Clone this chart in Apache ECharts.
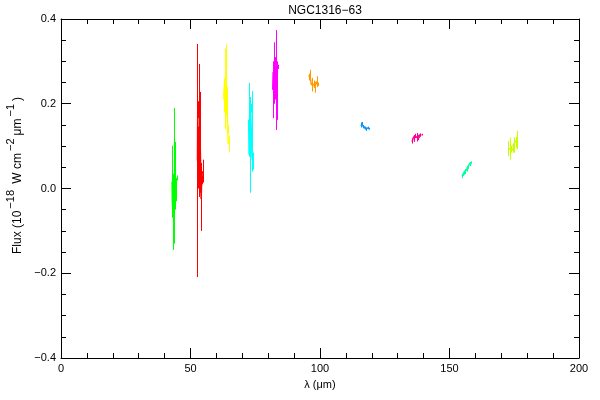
<!DOCTYPE html>
<html>
<head>
<meta charset="utf-8">
<script src="https://cdn.jsdelivr.net/npm/echarts@6/dist/echarts.min.js"></script>
<style>html,body{margin:0;padding:0;background:#fff}#c{width:600px;height:400px}</style>
</head>
<body>
<div id="c"></div>
<script>
// ---- data (wavelength in micron, flux in 1e-18 W cm^-2 um^-1, 1-sigma error) ----
const waveGreen = [42.9, 43.1, 43.4, 43.6, 43.8, 44.0, 44.2, 44.45, 44.7];
const fluxGreen = [0.016, -0.03, -0.055, -0.01, 0.03, -0.035, 0.032, -0.01, 0.025];
const errGreen  = [0.085, 0.02, 0.09, 0.03, 0.16, 0.015, 0.078, 0.02, 0.006];

const waveRed = [52.7, 52.9, 53.1, 53.4, 53.6, 53.8, 54.0, 54.2, 54.45, 54.7];
const fluxRed = [0.066, 0.186, 0.0, 0.146, 0.01, 0.122, 0.05, -0.025, 0.02, 0.041];
const errRed  = [0.275, 0.02, 0.02, 0.148, 0.02, 0.106, 0.01, 0.075, 0.01, 0.027];

const waveYellow = [62.85, 63.15, 63.55, 63.75, 63.95, 64.2, 64.45, 64.7];
const fluxYellow = [0.21, 0.235, 0.263, 0.19, 0.183, 0.22, 0.14, 0.105];
const errYellow  = [0.03, 0.095, 0.077, 0.02, 0.056, 0.01, 0.01, 0.02];

const waveCyan = [72.45, 72.8, 73.1, 73.35, 73.6, 73.9, 74.25];
const fluxCyan = [0.162, 0.08, 0.103, 0.19, 0.135, 0.075, 0.065];
const errCyan  = [0.087, 0.01, 0.113, 0.01, 0.095, 0.02, 0.02];

const waveMagenta = [81.75, 82.1, 82.3, 82.5, 82.7, 82.9, 83.1, 83.3, 83.75];
const fluxMagenta = [0.233, 0.275, 0.21, 0.30, 0.22, 0.256, 0.29, 0.231, 0.287];
const errMagenta  = [0.067, 0.07, 0.01, 0.01, 0.01, 0.118, 0.01, 0.069, 0.005];

const waveOrange = [95.74, 96.32, 96.98, 97.68, 98.26, 98.76, 99.42];
const fluxOrange = [0.263, 0.27, 0.245, 0.246, 0.238, 0.252, 0.246];
const errOrange  = [0.008, 0.01, 0.016, 0.009, 0.012, 0.013, 0.004];

const waveBlue = [115.7, 116.2, 116.7, 117.3, 117.9, 118.5, 119.1];
const fluxBlue = [0.150, 0.153, 0.146, 0.143, 0.140, 0.143, 0.141];
const errBlue  = [0.006, 0.004, 0.004, 0.003, 0.004, 0.003, 0.002];

const wavePink = [135.6, 136.2, 136.8, 137.4, 138.0, 138.6, 139.2];
const fluxPink = [0.110, 0.118, 0.124, 0.121, 0.120, 0.126, 0.127];
const errPink  = [0.004, 0.008, 0.005, 0.010, 0.006, 0.004, 0.002];

const waveTeal = [154.8, 155.4, 156.0, 156.6, 157.2, 157.8, 158.4];
const fluxTeal = [0.030, 0.034, 0.040, 0.044, 0.050, 0.056, 0.061];
const errTeal  = [0.005, 0.004, 0.006, 0.004, 0.004, 0.003, 0.003];

const waveLime = [172.65, 173.3, 173.9, 174.4, 174.85, 175.6, 176.2];
const fluxLime = [0.094, 0.094, 0.093, 0.090, 0.103, 0.109, 0.114];
const errLime  = [0.018, 0.026, 0.008, 0.006, 0.018, 0.013, 0.022];

const xTicks = [0, 50, 100, 150, 200];
const yTicks = [-0.4, -0.2, 0.0, 0.2, 0.4];

// ---- styles ----
const colours = ['#00ff00', '#ff0000', '#ffff00', '#00ffff', '#ff00ff',
                 '#ff9900', '#0a96ff', '#ff0096', '#00ffa0', '#c8ff00'];

const spectra = [
  [waveGreen, fluxGreen, errGreen], [waveRed, fluxRed, errRed],
  [waveYellow, fluxYellow, errYellow], [waveCyan, fluxCyan, errCyan],
  [waveMagenta, fluxMagenta, errMagenta], [waveOrange, fluxOrange, errOrange],
  [waveBlue, fluxBlue, errBlue], [wavePink, fluxPink, errPink],
  [waveTeal, fluxTeal, errTeal], [waveLime, fluxLime, errLime]
];

const FONT = 'Liberation Sans, Arial, sans-serif';
const series = [];
spectra.forEach(([w, f, e], i) => {
  const col = colours[i];
  series.push({
    type: 'custom',
    data: w.map((x, k) => [x, f[k], e[k]]),
    renderItem: function (params, api) {
      const x = api.value(0), y = api.value(1), er = api.value(2);
      const p1 = api.coord([x, y - er]);
      const p2 = api.coord([x, y + er]);
      const xx = Math.round(p1[0]) + 0.5;
      return {
        type: 'line',
        shape: { x1: xx, y1: p1[1], x2: xx, y2: p2[1] },
        style: { stroke: col, lineWidth: 1 }
      };
    },
    animation: false, silent: true, z: 2
  });
  series.push({
    type: 'line',
    data: w.map((x, k) => [x, f[k]]),
    step: 'middle',
    showSymbol: false, symbol: 'none',
    lineStyle: { color: col, width: 1.5 },
    animation: false, silent: true, z: 3
  });
});

const fmtY = v => (v < 0 ? '\u2212' : '') + Math.abs(v).toFixed(1);

const axisCommon = {
  type: 'value',
  axisLine: { show: true, onZero: false, lineStyle: { color: '#000', width: 1 } },
  axisTick: { show: true, inside: true, length: 10, lineStyle: { color: '#000' } },
  minorTick: { show: true, length: 5, lineStyle: { color: '#000' } },
  splitLine: { show: false },
  minorSplitLine: { show: false }
};

const option = {
  backgroundColor: '#fff',
  animation: false,
  title: {
    text: 'NGC1316\u221263',
    left: 320, top: 0, textAlign: 'center',
    textStyle: { fontFamily: FONT, fontSize: 12, fontWeight: 'normal', color: '#000' }
  },
  grid: { left: 61, right: 21, top: 19, bottom: 42, containLabel: false, outerBoundsMode: 'none' },
  xAxis: [
    Object.assign({}, axisCommon, {
      position: 'bottom', min: xTicks[0], max: xTicks[xTicks.length - 1], interval: 50,
      minorTick: Object.assign({}, axisCommon.minorTick, { splitNumber: 5 }),
      axisLabel: { color: '#000', fontFamily: FONT, fontSize: 11, margin: 5,
                   formatter: v => xTicks.includes(v) ? String(v) : '' },
      name: '\u03bb (\u03bcm)', nameLocation: 'middle', nameGap: 21,
      nameTextStyle: { color: '#000', fontFamily: FONT, fontSize: 11 }
    }),
    Object.assign({}, axisCommon, {
      position: 'top', min: xTicks[0], max: xTicks[xTicks.length - 1], interval: 50,
      minorTick: Object.assign({}, axisCommon.minorTick, { splitNumber: 5 }),
      axisLabel: { show: false }
    })
  ],
  yAxis: [
    Object.assign({}, axisCommon, {
      position: 'left', min: yTicks[0], max: yTicks[yTicks.length - 1], interval: 0.2,
      minorTick: Object.assign({}, axisCommon.minorTick, { splitNumber: 4 }),
      axisLabel: { color: '#000', fontFamily: FONT, fontSize: 11, margin: 5, formatter: fmtY },
      name: '{f|Flux (10}{s|\u221218}{n| W cm}{s|\u22122}{n|\u03bcm}{s|\u22121}{n|)}',
      nameLocation: 'middle', nameGap: 21, nameRotate: 90,
      nameTextStyle: {
        color: '#000', fontFamily: FONT, fontSize: 12,
        rich: {
          f: { fontFamily: FONT, fontSize: 12, color: '#000', padding: [6, 0, 0, 26] },
          n: { fontFamily: FONT, fontSize: 12, color: '#000', padding: [6, 0, 0, 1] },
          s: { fontFamily: FONT, fontSize: 11, color: '#000', padding: [0, 2, 6, 2] }
        }
      }
    }),
    Object.assign({}, axisCommon, {
      position: 'right', min: yTicks[0], max: yTicks[yTicks.length - 1], interval: 0.2,
      minorTick: Object.assign({}, axisCommon.minorTick, { splitNumber: 4 }),
      axisLabel: { show: false }
    })
  ],
  series: series
};

const chart = echarts.init(document.getElementById('c'), null, { renderer: 'canvas' });
chart.setOption(option);
</script>
</body>
</html>
